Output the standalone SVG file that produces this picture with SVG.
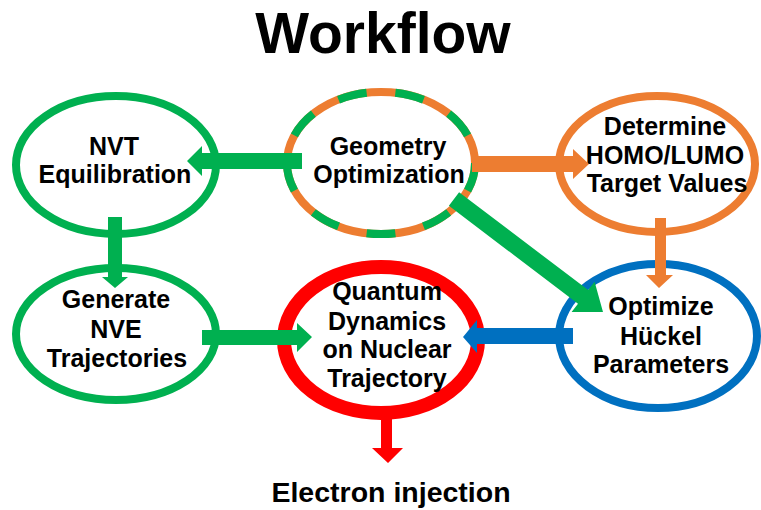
<svg xmlns="http://www.w3.org/2000/svg" width="761" height="510" viewBox="0 0 761 510">
<style>
.t{font-family:"Liberation Sans",Arial,sans-serif;font-weight:bold;fill:#000;text-anchor:middle}
.n{font-size:25px}
.e{fill:#fff}
</style>
<rect width="761" height="510" fill="#fff"/>
<text class="t" x="383" y="53" font-size="57">Workflow</text>
<g id="nvt">
<ellipse class="e" cx="116" cy="165" rx="100" ry="69" stroke="#00B050" stroke-width="8"/>
<text class="t n" x="114" y="155">NVT</text>
<text class="t n" x="115" y="183">Equilibration</text>
</g>
<g id="geom">
<ellipse class="e" cx="381" cy="163" rx="94" ry="71" stroke="#ED7D31" stroke-width="8"/>
<ellipse cx="381" cy="163" rx="94" ry="71" fill="none" stroke="#00B050" stroke-width="8" pathLength="18" stroke-dasharray="1 1"/>
<text class="t n" x="388" y="155">Geometry</text>
<text class="t n" x="389" y="183">Optimization</text>
</g>
<g id="homo">
<ellipse class="e" cx="657" cy="164" rx="98" ry="68" stroke="#ED7D31" stroke-width="8"/>
<text class="t n" x="665" y="135">Determine</text>
<text class="t n" x="665" y="164">HOMO/LUMO</text>
<text class="t n" x="667" y="192">Target Values</text>
</g>
<g id="nve">
<ellipse class="e" cx="116" cy="334" rx="100" ry="66" stroke="#00B050" stroke-width="8"/>
<text class="t n" x="116" y="308">Generate</text>
<text class="t n" x="116" y="338">NVE</text>
<text class="t n" x="117" y="367">Trajectories</text>
</g>
<g id="quantum">
<ellipse class="e" cx="381" cy="340" rx="97" ry="73" stroke="#FF0000" stroke-width="14"/>
<text class="t n" x="387" y="300">Quantum</text>
<text class="t n" x="387" y="330">Dynamics</text>
<text class="t n" x="387" y="358">on Nuclear</text>
<text class="t n" x="387" y="387">Trajectory</text>
</g>
<g id="huckel">
<ellipse class="e" cx="658" cy="336" rx="99" ry="72" stroke="#0070C0" stroke-width="8"/>
<text class="t n" x="661" y="315">Optimize</text>
<text class="t n" x="661" y="345">Hückel</text>
<text class="t n" x="661" y="373">Parameters</text>
</g>
<text class="t" x="391" y="502" font-size="28.5">Electron injection</text>
<g id="connectors">
<polygon fill="#00B050" points="302,153 202,153 202,146 187,161 202,176 202,169 302,169"/>
<polygon fill="#ED7D31" points="472,156 573,156 573,149 589,164 573,179 573,172 472,172"/>
<polygon fill="#ED7D31" points="655,218 666,218 666,275 673,275 659,288 646,275 655,275"/>
<polygon fill="#00B050" points="108,217 122,217 122,277 128,277 115,288 102,277 108,277"/>
<polygon fill="#00B050" points="202,330 297,330 297,323 312,337 297,352 297,345 202,345"/>
<polygon fill="#0070C0" points="573,328 477,328 477,320 463,337 477,353 477,344 573,344"/>
<polygon fill="#FF0000" points="381,418 392,418 392,448 403,448 388,463 372,448 381,448"/>
<polygon fill="#00B050" points="459.1,192.2 588.2,290.1 594.6,281.8 603,312 571.6,312 578,303.7 448.9,205.8"/>
</g>
</svg>
